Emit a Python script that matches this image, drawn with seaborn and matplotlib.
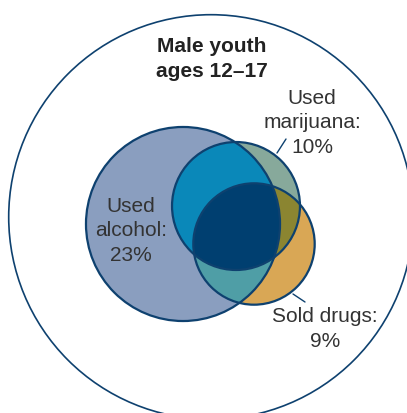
import numpy as np
import matplotlib
matplotlib.use("Agg")
import matplotlib.pyplot as plt
import seaborn as sns
from matplotlib.patches import Circle, Polygon

# ---- data ----
groups = ["Used alcohol", "Used marijuana", "Sold drugs"]
percents = [23, 10, 9]
population_label = "Male youth\nages 12–17"
population_pct = 100

sns.set_theme(style="white")
plt.rcParams["font.family"] = ["Liberation Sans", "DejaVu Sans"]

TXT = "#333333"
EDGE = "#0e416f"
single_cols = ["#8a9ebf", "#87a99b", "#d9a755"]
pair_cols = {(0, 1): "#0a88b9", (0, 2): "#4f9ea6", (1, 2): "#8b8531"}
triple_col = "#003f70"

fig = plt.figure(figsize=(4.07, 4.14), dpi=100)
ax = fig.add_axes([0, 0, 1, 1])
ax.set_xlim(0, 407)
ax.set_ylim(414, 0)
ax.axis("off")

k = 20.23  # pixel radius per sqrt(percent)
centers = [(183, 225), (236, 207), (254, 245)]
radii = [k * np.sqrt(p) for p in percents]

# population circle
ax.add_patch(Circle((211, 218), k * np.sqrt(population_pct), fill=False,
                    ec=EDGE, lw=1.2, zorder=1))

theta = np.linspace(0, 2 * np.pi, 3000, endpoint=False)


def circle_pts(i):
    cx, cy = centers[i]
    r = radii[i]
    return np.column_stack([cx + r * np.cos(theta), cy + r * np.sin(theta)])


def inside(pts, j):
    cx, cy = centers[j]
    return (pts[:, 0] - cx) ** 2 + (pts[:, 1] - cy) ** 2 <= radii[j] ** 2 + 1e-9


def intersection_poly(idx):
    allp = []
    for i in idx:
        p = circle_pts(i)
        m = np.ones(len(p), bool)
        for j in idx:
            if j != i:
                m &= inside(p, j)
        allp.append(p[m])
    allp = np.vstack(allp)
    c = allp.mean(axis=0)
    ang = np.arctan2(allp[:, 1] - c[1], allp[:, 0] - c[0])
    return allp[np.argsort(ang)]


for i in range(3):
    ax.add_patch(Circle(centers[i], radii[i], fc=single_cols[i], ec="none", zorder=2))
for (i, j), col in pair_cols.items():
    ax.add_patch(Polygon(intersection_poly([i, j]), closed=True, fc=col, ec="none", zorder=3))
ax.add_patch(Polygon(intersection_poly([0, 1, 2]), closed=True, fc=triple_col, ec="none", zorder=4))
for i in range(3):
    ax.add_patch(Circle(centers[i], radii[i], fill=False, ec=EDGE, lw=1.6, zorder=5))

# labels
LS = 1.36
ax.text(212, 59, population_label, ha="center", va="center", fontsize=15,
        fontweight="bold", color="#222222", linespacing=LS)
label_pos = [(131, 231), (312, 123), (325, 329)]
for (name, p), (x, y) in zip(zip(groups, percents), label_pos):
    if name == "Sold drugs":
        s = f"{name}:\n{p}%"
    else:
        w = name.split(" ")
        s = f"{w[0]}\n{w[1]}:\n{p}%"
    ax.text(x, y, s, ha="center", va="center", fontsize=15, color=TXT, linespacing=LS)

# leader lines
ax.plot([277, 286], [154, 140], color=EDGE, lw=1.0, zorder=6)
ax.plot([293, 305], [295, 303], color=EDGE, lw=1.0, zorder=6)

fig.savefig("out.png", dpi=100)
